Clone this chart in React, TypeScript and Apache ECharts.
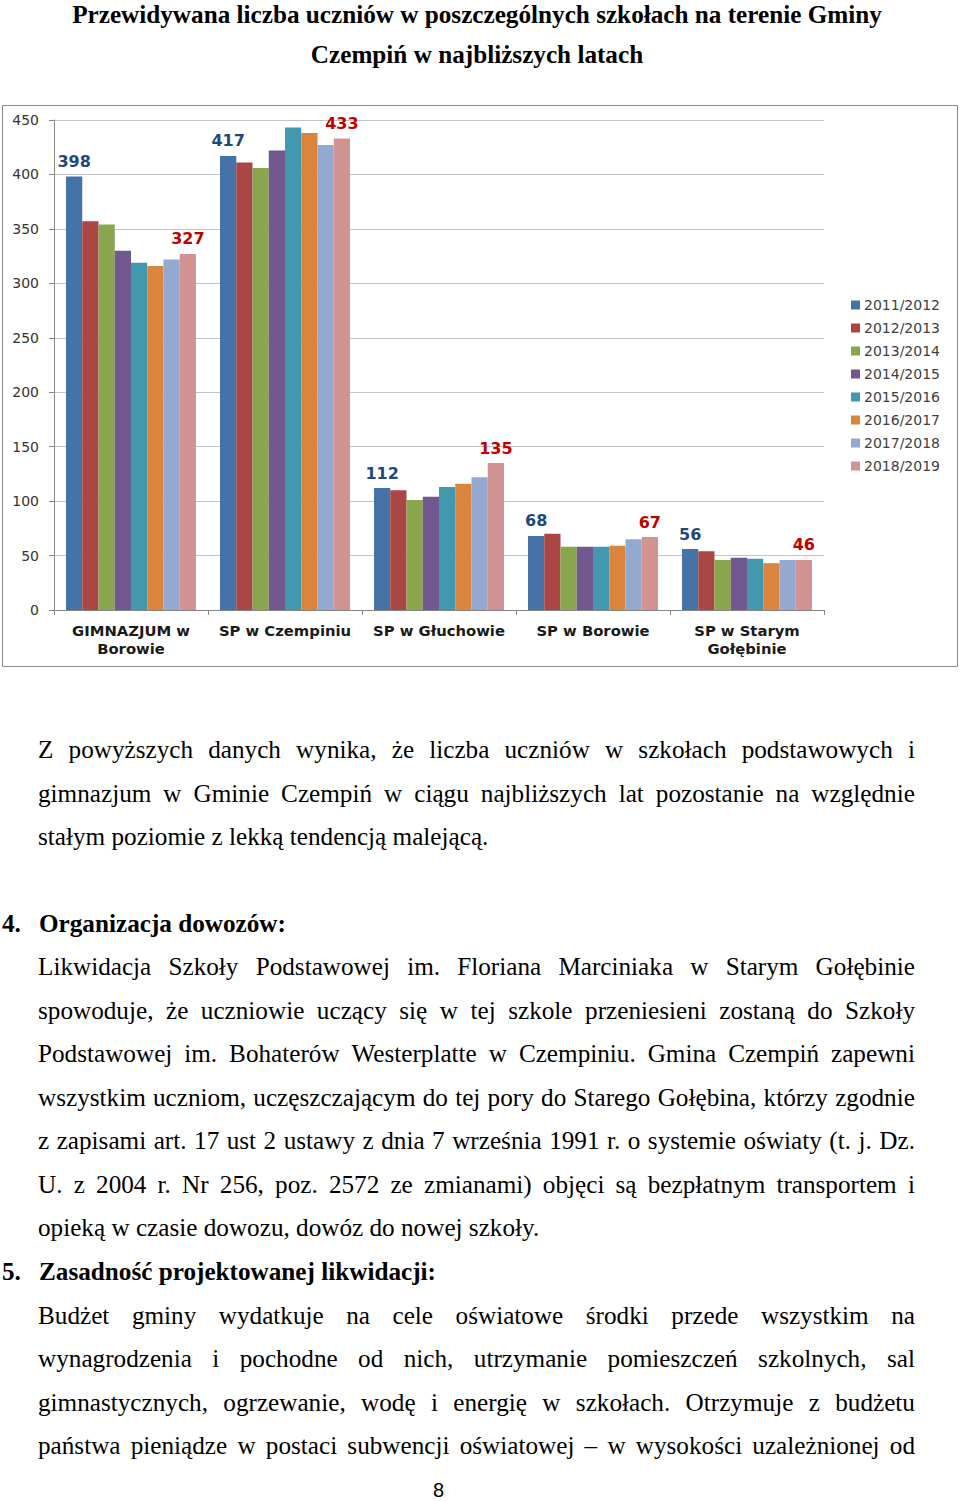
import React, { useEffect, useRef } from "react";
import * as echarts from "echarts";

const categories = [
  "GIMNAZJUM w\nBorowie",
  "SP w Czempiniu",
  "SP w Głuchowie",
  "SP w Borowie",
  "SP w Starym\nGołębinie",
];
const years = [
  "2011/2012",
  "2012/2013",
  "2013/2014",
  "2014/2015",
  "2015/2016",
  "2016/2017",
  "2017/2018",
  "2018/2019",
];
const v2011 = [398, 417, 112, 68, 56];
const v2012 = [357, 411, 110, 70, 54];
const v2013 = [354, 406, 101, 58, 46];
const v2014 = [330, 422, 104, 58, 48];
const v2015 = [319, 443, 113, 58, 47];
const v2016 = [316, 438, 116, 59, 43];
const v2017 = [322, 427, 122, 65, 46];
const v2018 = [327, 433, 135, 67, 46];
const seriesValues = [v2011, v2012, v2013, v2014, v2015, v2016, v2017, v2018];
const colors = ["#4572A7", "#AA4643", "#89A54E", "#71588F", "#4198AF", "#DB843D", "#93A9CF", "#D19392"];

const titleLines = [
  "Przewidywana liczba uczniów w poszczególnych szkołach na terenie Gminy",
  "Czempiń w najbliższych latach",
];

type Line = { text: string; justify?: boolean; bold?: boolean; num?: string; baseline: number };
const bodyLines: Line[] = [
  { text: "Z powyższych danych wynika, że liczba uczniów w szkołach podstawowych i", justify: true, baseline: 759 },
  { text: "gimnazjum w Gminie Czempiń w ciągu najbliższych lat pozostanie na względnie", justify: true, baseline: 803 },
  { text: "stałym poziomie z lekką tendencją malejącą.", baseline: 846 },
  { text: "Organizacja dowozów:", bold: true, num: "4.", baseline: 933 },
  { text: "Likwidacja Szkoły Podstawowej im. Floriana Marciniaka w Starym Gołębinie", justify: true, baseline: 976 },
  { text: "spowoduje, że uczniowie uczący się w tej szkole przeniesieni zostaną do Szkoły", justify: true, baseline: 1020 },
  { text: "Podstawowej im. Bohaterów Westerplatte w Czempiniu. Gmina Czempiń zapewni", justify: true, baseline: 1063 },
  { text: "wszystkim uczniom, uczęszczającym do tej pory do Starego Gołębina, którzy zgodnie", justify: true, baseline: 1107 },
  { text: "z zapisami art. 17 ust 2 ustawy z dnia 7 września 1991 r. o systemie oświaty (t. j. Dz.", justify: true, baseline: 1150 },
  { text: "U. z 2004 r. Nr 256, poz. 2572 ze zmianami) objęci są bezpłatnym transportem i", justify: true, baseline: 1194 },
  { text: "opieką w czasie dowozu, dowóz do nowej szkoły.", baseline: 1237 },
  { text: "Zasadność projektowanej likwidacji:", bold: true, num: "5.", baseline: 1281 },
  { text: "Budżet gminy wydatkuje na cele oświatowe środki przede wszystkim na", justify: true, baseline: 1325 },
  { text: "wynagrodzenia i pochodne od nich, utrzymanie pomieszczeń szkolnych, sal", justify: true, baseline: 1368 },
  { text: "gimnastycznych, ogrzewanie, wodę i energię w szkołach. Otrzymuje z budżetu", justify: true, baseline: 1412 },
  { text: "państwa pieniądze w postaci subwencji oświatowej – w wysokości uzależnionej od", justify: true, baseline: 1455 },
];

const SERIF = '"Liberation Serif", "Times New Roman", serif';
const BODY_FS = 25.2;
const TITLE_FS = 25.2;
const LH = 30;
const TLH = 29;
const topFor = (baseline: number, fs: number, lh: number = LH) => baseline - (lh / 2 + 0.3375 * fs);

export default function App() {
  const ref = useRef<HTMLDivElement>(null);

  useEffect(() => {
    if (!ref.current) return;
    const chart = echarts.init(ref.current, null, { renderer: "svg" });
    const font = '"DejaVu Sans", Verdana, sans-serif';
    chart.setOption({
      animation: false,
      color: colors,
      graphic: [
        {
          type: "rect",
          shape: { x: 2.5, y: 0.5, width: 955, height: 561 },
          style: { fill: "none", stroke: "#8a8a8a", lineWidth: 1 },
          silent: true,
        },
      ],
      grid: { left: 54, right: 136, top: 15, bottom: 57 },
      legend: {
        orient: "vertical",
        left: 846,
        top: 188,
        itemWidth: 9,
        itemHeight: 9,
        itemGap: 9,
        icon: "rect",
        data: years,
        textStyle: { fontFamily: font, fontSize: 14, lineHeight: 14, color: "#404040", padding: [0, 0, 0, -1] },
      },
      xAxis: {
        type: "category",
        data: categories,
        axisLine: { lineStyle: { color: "#868686" } },
        axisTick: { show: true, length: 5, lineStyle: { color: "#868686" } },
        axisLabel: {
          fontFamily: font,
          fontWeight: "bold",
          fontSize: 14.8,
          lineHeight: 18,
          color: "#1a1a1a",
          margin: 11,
          interval: 0,
        },
      },
      yAxis: {
        type: "value",
        min: 0,
        max: 450,
        interval: 50,
        axisLine: { show: true, lineStyle: { color: "#868686" } },
        axisTick: { show: true, length: 5, lineStyle: { color: "#868686" } },
        splitLine: { lineStyle: { color: "#c4c4c4" } },
        axisLabel: { fontFamily: font, fontSize: 14, color: "#333", margin: 15 },
      },
      series: seriesValues.map((vals, i) => ({
        type: "bar",
        name: years[i],
        data: vals,
        barGap: "0%",
        barCategoryGap: "15.6%",
        itemStyle: { color: colors[i] },
        label: {
          show: i === 0 || i === seriesValues.length - 1,
          position: "top",
          distance: 7,
          fontFamily: font,
          fontWeight: "bold",
          fontSize: 16,
          color: i === 0 ? "#1F497D" : "#C00000",
        },
      })),
    });
    return () => chart.dispose();
  }, []);

  return (
    <div style={{ position: "absolute", left: 0, top: 0, width: 960, height: 1501, background: "#fff", overflow: "hidden" }}>
      {titleLines.map((t, i) => (
        <div
          key={"t" + i}
          style={{
            position: "absolute",
            left: 0,
            width: 954,
            top: topFor(i === 0 ? 22.8 : 63, TITLE_FS, TLH),
            lineHeight: TLH + "px",
            fontFamily: SERIF,
            fontWeight: "bold",
            fontSize: TITLE_FS,
            textAlign: "center",
            whiteSpace: "nowrap",
            color: "#000",
          }}
        >
          {t}
        </div>
      ))}
      <div ref={ref} style={{ position: "absolute", left: 0, top: 105, width: 960, height: 562 }} />
      {bodyLines.map((l, i) => {
        const top = topFor(l.baseline, BODY_FS);
        const common: React.CSSProperties = {
          position: "absolute",
          top,
          lineHeight: LH + "px",
          fontFamily: SERIF,
          fontSize: BODY_FS,
          fontWeight: l.bold ? "bold" : "normal",
          color: "#000",
          whiteSpace: "nowrap",
        };
        if (l.justify) {
          const words = l.text.split(" ");
          return (
            <div key={i} style={{ ...common, left: 38, width: 877, display: "flex", justifyContent: "space-between" }}>
              {words.map((w, j) => (
                <span key={j}>{w}</span>
              ))}
            </div>
          );
        }
        return (
          <React.Fragment key={i}>
            {l.num && <div style={{ ...common, left: 2 }}>{l.num}</div>}
            <div style={{ ...common, left: l.num ? 39 : 38 }}>{l.text}</div>
          </React.Fragment>
        );
      })}
      <div
        style={{
          position: "absolute",
          left: 433,
          top: 1497 - (LH / 2 + 0.3465 * 20),
          lineHeight: LH + "px",
          fontFamily: '"Liberation Sans", Arial, sans-serif',
          fontSize: 20,
          color: "#000",
        }}
      >
        8
      </div>
    </div>
  );
}
